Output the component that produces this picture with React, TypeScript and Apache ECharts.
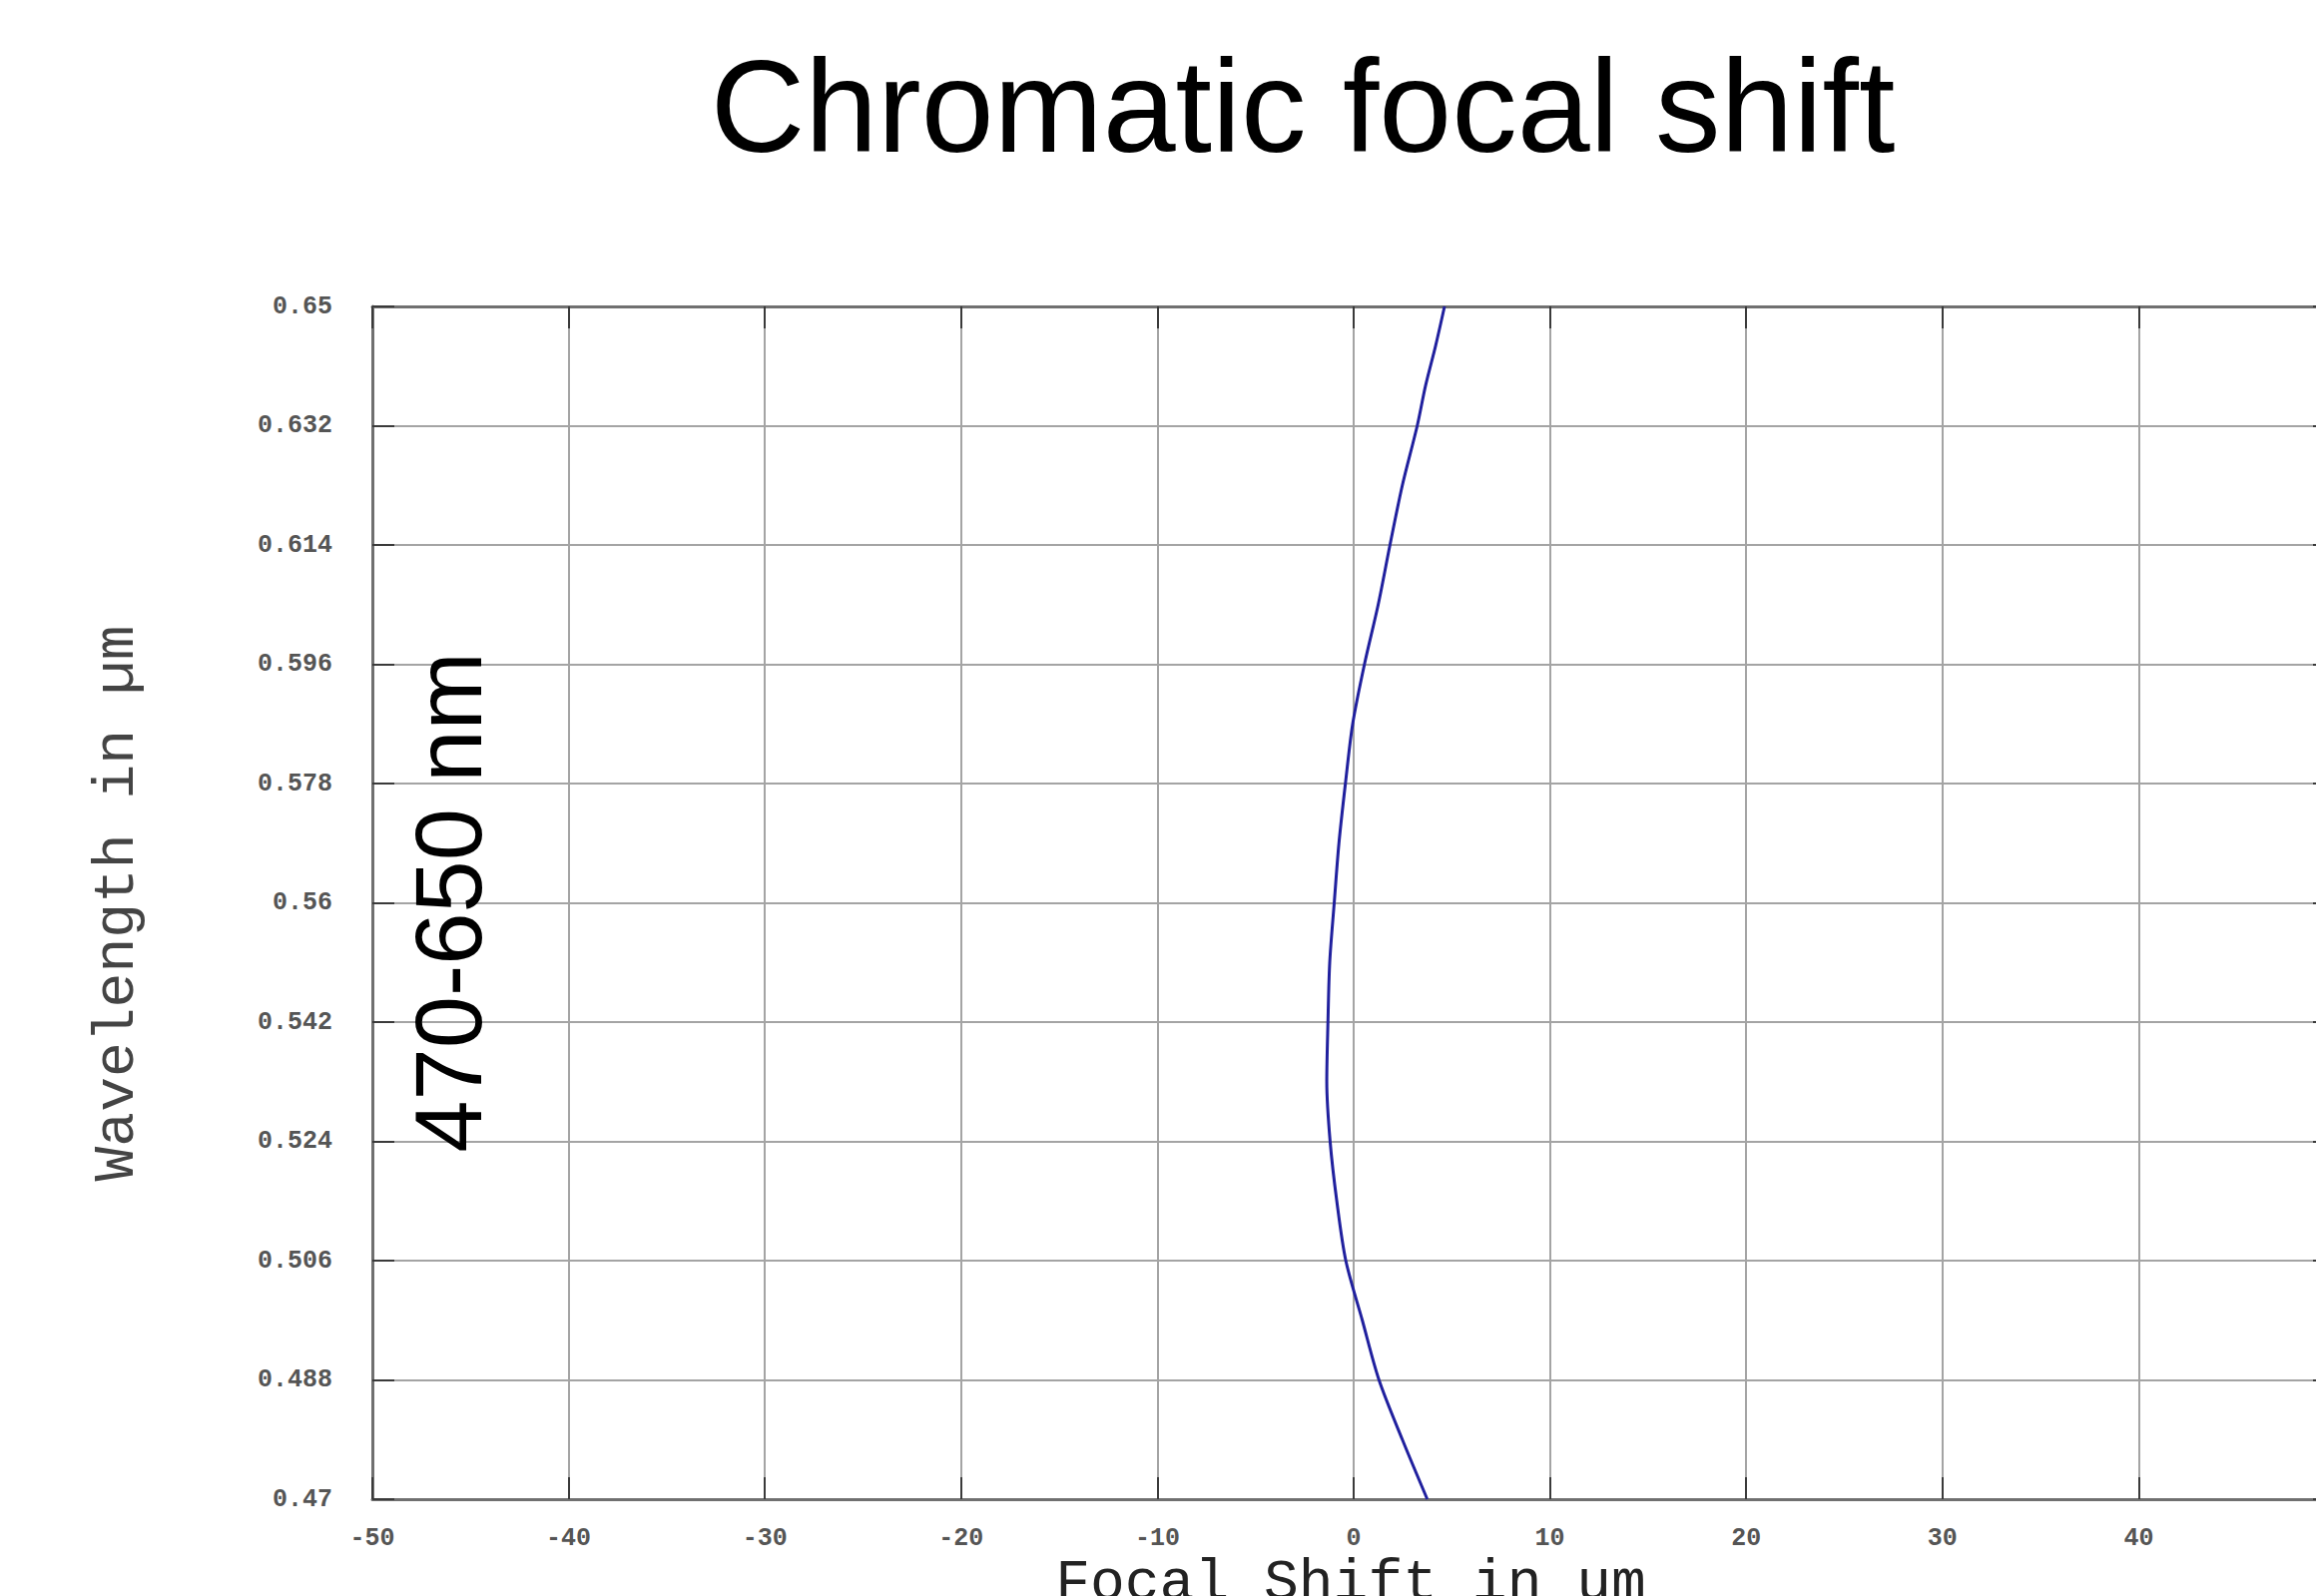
import React, { useEffect, useRef } from "react";
import * as echarts from "echarts";

// Wavelength (µm) sampled along the curve
const wavelengths = [
  0.47, 0.479, 0.488, 0.497, 0.506, 0.515, 0.524, 0.533, 0.542, 0.551, 0.56,
  0.569, 0.578, 0.587, 0.596, 0.605, 0.614, 0.623, 0.632, 0.638, 0.644, 0.65,
];
// Focal shift (µm) at each wavelength
const focalShift = [
  3.75, 2.48, 1.29, 0.44, -0.4, -0.86, -1.2, -1.37, -1.31, -1.22, -0.99,
  -0.75, -0.42, -0.05, 0.55, 1.25, 1.85, 2.48, 3.24, 3.66, 4.17, 4.63,
];
// Y tick values
const yTicks = [0.47, 0.488, 0.506, 0.524, 0.542, 0.56, 0.578, 0.596, 0.614, 0.632, 0.65];
const xMin = -50;
const xMax = 50;
const xStep = 10;

const titleText = "Chromatic focal shift";
const yTitle = "Wavelength in µm";
const xTitle = "Focal Shift in um";
const rangeNote = "470-650 nm";

export default function App() {
  const ref = useRef<HTMLDivElement>(null);
  useEffect(() => {
    document.body.style.margin = "0";
    document.body.style.overflow = "hidden";
    if (!ref.current) return;
    const chart = echarts.init(ref.current, null, { renderer: "svg" });
    const mono = "'Liberation Mono', 'Courier New', monospace";
    const sans = "'Liberation Sans', Arial, sans-serif";
    const axisLineStyle = { color: "#707070", width: 3 };
    const tickStyle = { color: "#3a3a3a", width: 2 };
    const gridStyle = { color: "#a4a4a4", width: 2 };
    const labelStyle = {
      fontFamily: mono,
      fontWeight: "bold" as const,
      fontSize: 25,
      color: "#555555",
    };
    chart.setOption({
      animation: false,
      backgroundColor: "#ffffff",
      grid: { left: 373, top: 307, bottom: 97, right: 21, containLabel: false },
      xAxis: [
        {
          type: "value",
          position: "bottom",
          min: xMin,
          max: xMax,
          interval: xStep,
          axisLine: { show: true, onZero: false, lineStyle: axisLineStyle },
          axisTick: { show: true, inside: true, length: 22, lineStyle: tickStyle },
          axisLabel: { ...labelStyle, margin: 27 },
          splitLine: { show: true, lineStyle: gridStyle },
        },
        {
          type: "value",
          position: "top",
          min: xMin,
          max: xMax,
          interval: xStep,
          axisLine: { show: true, onZero: false, lineStyle: axisLineStyle },
          axisTick: { show: true, inside: true, length: 22, lineStyle: tickStyle },
          axisLabel: { show: false },
          splitLine: { show: false },
        },
      ],
      yAxis: [
        {
          type: "value",
          position: "left",
          min: yTicks[0],
          max: yTicks[yTicks.length - 1],
          axisLine: { show: true, onZero: false, lineStyle: axisLineStyle },
          axisTick: {
            show: true,
            inside: true,
            length: 22,
            lineStyle: tickStyle,
            customValues: yTicks,
          },
          axisLabel: {
            ...labelStyle,
            margin: 40,
            customValues: yTicks,
            formatter: (v: number) => String(+Number(v).toFixed(3)),
          },
          splitLine: { show: true, lineStyle: gridStyle },
        },
        {
          type: "value",
          position: "right",
          min: yTicks[0],
          max: yTicks[yTicks.length - 1],
          axisLine: { show: true, onZero: false, lineStyle: axisLineStyle },
          axisTick: {
            show: true,
            inside: true,
            length: 22,
            lineStyle: tickStyle,
            customValues: yTicks,
          },
          axisLabel: { show: false },
          splitLine: { show: false },
        },
      ],
      series: [
        {
          type: "line",
          xAxisIndex: 0,
          yAxisIndex: 0,
          data: wavelengths.map((w, i) => [focalShift[i], w]),
          showSymbol: false,
          smooth: 0.3,
          lineStyle: { color: "#20209e", width: 3 },
          clip: true,
          z: 5,
        },
      ],
      graphic: [
        {
          type: "text",
          x: 1305,
          y: 106,
          style: {
            text: titleText,
            fontFamily: sans,
            fontSize: 131,
            fill: "#000000",
            align: "center",
            verticalAlign: "middle",
          },
        },
        {
          type: "text",
          x: 117,
          y: 905,
          rotation: Math.PI / 2,
          style: {
            text: yTitle,
            fontFamily: mono,
            fontSize: 58,
            fill: "#444444",
            align: "center",
            verticalAlign: "middle",
          },
        },
        {
          type: "text",
          x: 1353,
          y: 1586,
          style: {
            text: xTitle,
            fontFamily: mono,
            fontSize: 58,
            fill: "#222222",
            align: "center",
            verticalAlign: "middle",
          },
        },
        {
          type: "text",
          x: 449,
          y: 904,
          rotation: Math.PI / 2,
          z: 10,
          style: {
            text: rangeNote,
            fontFamily: sans,
            fontSize: 94,
            fill: "#000000",
            align: "center",
            verticalAlign: "middle",
          },
        },
      ],
    });
    return () => chart.dispose();
  }, []);
  return (
    <div style={{ width: 2320, height: 1599, overflow: "hidden", position: "relative" }}>
      <div ref={ref} style={{ width: 2360, height: 1599 }} />
    </div>
  );
}
